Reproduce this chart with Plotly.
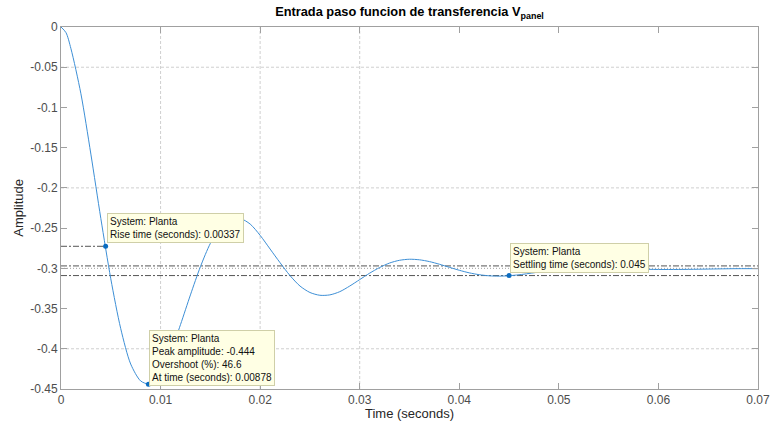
import plotly.graph_objects as go

# Step response of the plant "Planta": time (s) and amplitude
t = [0, 0.0005, 0.001, 0.002, 0.003, 0.004, 0.005, 0.006, 0.007, 0.008, 0.00878,
     0.009, 0.010, 0.011, 0.012, 0.013, 0.014, 0.015, 0.016, 0.017, 0.018, 0.019,
     0.020, 0.021, 0.022, 0.023, 0.024, 0.025, 0.026, 0.027, 0.028, 0.029,
     0.030, 0.031, 0.032, 0.033, 0.034, 0.035, 0.036, 0.037, 0.038, 0.039,
     0.040, 0.041, 0.042, 0.043, 0.044, 0.045, 0.046, 0.047, 0.048, 0.049,
     0.050, 0.052, 0.054, 0.056, 0.058, 0.060, 0.062, 0.064, 0.066, 0.068, 0.070]
amp = [0, -0.007, -0.027, -0.083, -0.158, -0.238, -0.313, -0.375, -0.419, -0.440, -0.444,
       -0.4437, -0.431, -0.405, -0.370, -0.333, -0.298, -0.269, -0.249, -0.239, -0.238, -0.245,
       -0.259, -0.276, -0.293, -0.309, -0.322, -0.330, -0.3335, -0.333, -0.329, -0.322,
       -0.314, -0.306, -0.299, -0.2934, -0.290, -0.2887, -0.2894, -0.2916, -0.2949, -0.2987,
       -0.3024, -0.3056, -0.3079, -0.3093, -0.3097, -0.3092, -0.3080, -0.3064, -0.3046, -0.3029,
       -0.3015, -0.2998, -0.2995, -0.3002, -0.3010, -0.3014, -0.3014, -0.3011, -0.3007, -0.3004, -0.3004]

# Characteristic points
rise_t, rise_amp = 0.00448, -0.2726
peak_t, peak_amp = 0.00878, -0.444
settle_t, settle_amp = 0.045, -0.309
settle_band = [-0.297, -0.309]
final_value = -0.300

# Tick labels
x_ticks = [0, 0.01, 0.02, 0.03, 0.04, 0.05, 0.06, 0.07]
x_tick_text = ["0", "0.01", "0.02", "0.03", "0.04", "0.05", "0.06", "0.07"]
y_ticks = [0, -0.05, -0.1, -0.15, -0.2, -0.25, -0.3, -0.35, -0.4, -0.45]
y_tick_text = ["0", "-0.05", "-0.1", "-0.15", "-0.2", "-0.25", "-0.3", "-0.35", "-0.4", "-0.45"]
grid_x = [0.01, 0.02, 0.03]
grid_y = [-0.05, -0.2, -0.4]

FONT = "Liberation Sans, Arial, sans-serif"
LINE_BLUE = "#3d8fd6"
MARK_BLUE = "#0b6cc0"
REF_GRAY = "#555555"

fig = go.Figure()
fig.add_trace(go.Scatter(x=t, y=amp, mode="lines",
                         line=dict(color=LINE_BLUE, width=1, shape="spline", smoothing=0.8),
                         hoverinfo="skip", showlegend=False))
fig.add_trace(go.Scatter(x=[rise_t, peak_t, settle_t], y=[rise_amp, peak_amp, settle_amp],
                         mode="markers", marker=dict(color=MARK_BLUE, size=5),
                         hoverinfo="skip", showlegend=False))

shapes = []
for gx in grid_x:
    shapes.append(dict(type="line", xref="x", yref="paper", x0=gx, x1=gx, y0=0, y1=1,
                       line=dict(color="#cfcfcf", width=1, dash="3px,2px"), layer="below"))
for gy in grid_y:
    shapes.append(dict(type="line", xref="paper", yref="y", x0=0, x1=1, y0=gy, y1=gy,
                       line=dict(color="#cfcfcf", width=1, dash="3px,2px"), layer="below"))
# settling band and steady-state level
for lv in settle_band:
    shapes.append(dict(type="line", xref="paper", yref="y", x0=0, x1=1, y0=lv, y1=lv,
                       line=dict(color=REF_GRAY, width=1, dash="6px,2px,2px,2px"), layer="below"))
shapes.append(dict(type="line", xref="paper", yref="y", x0=0, x1=1, y0=final_value, y1=final_value,
                   line=dict(color="#a0a0a0", width=1, dash="1px,2px"), layer="below"))
# rise-time level
shapes.append(dict(type="line", xref="x", yref="y", x0=0, x1=rise_t, y0=rise_amp, y1=rise_amp,
                   line=dict(color=REF_GRAY, width=1, dash="6px,2px,2px,2px"), layer="below"))

tip_style = dict(showarrow=False, xanchor="left", yanchor="bottom", align="left",
                 bgcolor="#ffffe4", bordercolor="#cfcfa8", borderwidth=1, borderpad=2,
                 font=dict(family=FONT, size=10, color="#111111"))
annotations = [
    dict(x=rise_t, y=rise_amp, xshift=1, yshift=3,
         text="System: Planta<br>Rise time (seconds): 0.00337", **tip_style),
    dict(x=peak_t, y=peak_amp, xshift=1, yshift=-2,
         text="System: Planta<br>Peak amplitude: -0.444<br>Overshoot (%): 46.6<br>At time (seconds): 0.00878",
         **tip_style),
    dict(x=settle_t, y=settle_amp, xshift=1, yshift=3,
         text="System: Planta<br>Settling time (seconds): 0.045", **tip_style),
    dict(x=0.5, y=-0.069, xref="paper", yref="paper", showarrow=False,
         xanchor="center", yanchor="middle", text="Time (seconds)",
         font=dict(family=FONT, size=13, color="#262626")),
    dict(x=-0.062, y=0.5, xref="paper", yref="paper", showarrow=False, textangle=-90,
         xanchor="center", yanchor="middle", text="Amplitude",
         font=dict(family=FONT, size=13, color="#262626")),
]

axis_common = dict(showgrid=False, zeroline=False, showline=True, linecolor="#a0a0a0",
                   linewidth=1, mirror="ticks", ticks="inside", ticklen=6,
                   tickcolor="#a0a0a0", tickfont=dict(family=FONT, size=12, color="#4d4d4d"))

fig.update_layout(
    width=772, height=428, autosize=False,
    margin=dict(l=61, r=14, t=27, b=39, autoexpand=False),
    paper_bgcolor="white", plot_bgcolor="white",
    title=dict(text="<b>Entrada paso funcion de transferencia V<sub>panel</sub></b>",
               x=0.5, xref="paper", xanchor="center", y=0.972, yref="container", yanchor="middle",
               font=dict(family=FONT, size=12.8, color="#000000")),
    xaxis=dict(range=[0, 0.07], tickvals=x_ticks, ticktext=x_tick_text, automargin=False,
               **axis_common),
    yaxis=dict(range=[-0.45, 0], tickvals=y_ticks, ticktext=y_tick_text, automargin=False,
               **axis_common),
    shapes=shapes,
    annotations=annotations,
)

fig.write_html("out.html", config={"responsive": False})
